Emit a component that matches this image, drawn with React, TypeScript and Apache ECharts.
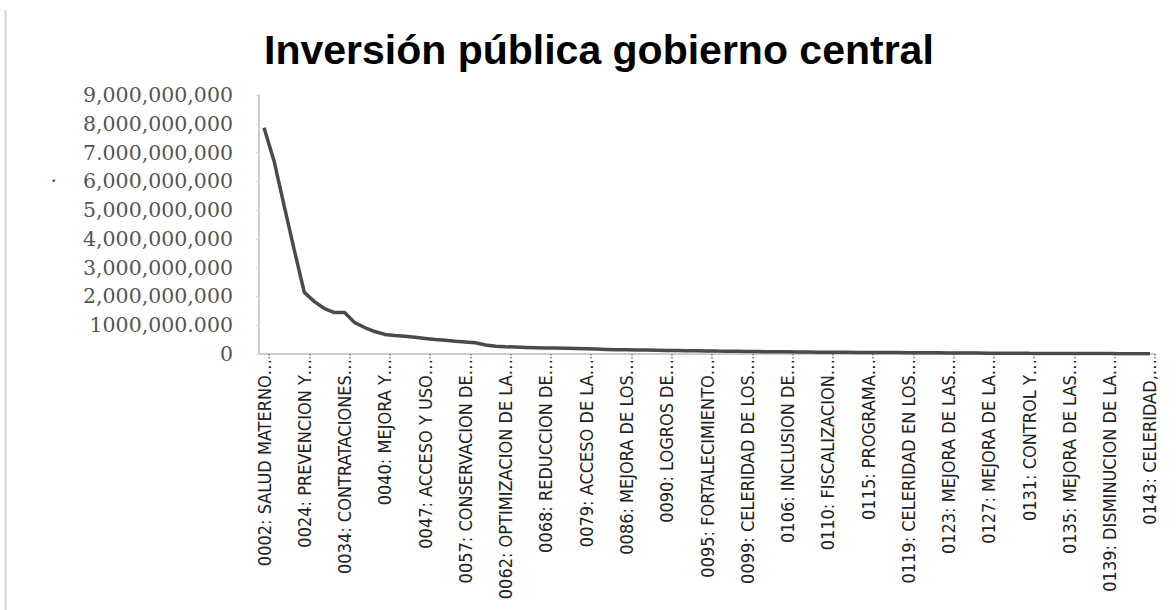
import React, { useEffect, useRef } from "react";
import * as echarts from "echarts";

const titleText = "Inversión pública gobierno central";

const categories = [
  "0002: SALUD MATERNO…", "0016", "0017", "0018",
  "0024: PREVENCION Y…", "0030", "0031", "0032",
  "0034: CONTRATACIONES…", "0035", "0036", "0039",
  "0040: MEJORA Y…", "0041", "0042", "0046",
  "0047: ACCESO Y USO…", "0048", "0049", "0051",
  "0057: CONSERVACION DE…", "0058", "0059", "0060",
  "0062: OPTIMIZACION DE LA…", "0064", "0065", "0066",
  "0068: REDUCCION DE…", "0072", "0073", "0074",
  "0079: ACCESO DE LA…", "0080", "0082", "0083",
  "0086: MEJORA DE LOS…", "0087", "0088", "0089",
  "0090: LOGROS DE…", "0091", "0093", "0094",
  "0095: FORTALECIMIENTO…", "0096", "0097", "0098",
  "0099: CELERIDAD DE LOS…", "0101", "0103", "0104",
  "0106: INCLUSION DE…", "0107", "0108", "0109",
  "0110: FISCALIZACION…", "0111", "0113", "0114",
  "0115: PROGRAMA…", "0116", "0117", "0118",
  "0119: CELERIDAD EN LOS…", "0120", "0121", "0122",
  "0123: MEJORA DE LAS…", "0124", "0125", "0126",
  "0127: MEJORA DE LA…", "0128", "0129", "0130",
  "0131: CONTROL Y…", "0132", "0133", "0134",
  "0135: MEJORA DE LAS…", "0136", "0137", "0138",
  "0139: DISMINUCION DE LA…", "0140", "0141", "0142",
  "0143: CELERIDAD,…",
];

const inversion = [
  7860000000, 6700000000, 5150000000, 3620000000,
  2140000000, 1820000000, 1580000000, 1440000000,
  1440000000, 1090000000, 920000000, 780000000,
  680000000, 640000000, 620000000, 580000000,
  540000000, 500000000, 480000000, 440000000,
  420000000, 390000000, 310000000, 270000000,
  250000000, 240000000, 230000000, 220000000,
  210000000, 205000000, 200000000, 190000000,
  180000000, 170000000, 160000000, 150000000,
  145000000, 140000000, 135000000, 130000000,
  125000000, 120000000, 115000000, 110000000,
  105000000, 100000000, 96000000, 92000000,
  88000000, 84000000, 80000000, 77000000,
  74000000, 71000000, 68000000, 65000000,
  62000000, 60000000, 58000000, 56000000,
  54000000, 52000000, 50000000, 48000000,
  46000000, 44000000, 42000000, 40000000,
  38000000, 36000000, 34000000, 32000000,
  30000000, 28000000, 26000000, 24000000,
  22000000, 21000000, 20000000, 19000000,
  18000000, 17000000, 16000000, 15000000,
  14000000, 13000000, 12000000, 11000000,
  10000000,
];

const yTickLabels = [
  "0",
  "1000,000.000",
  "2,000,000,000",
  "3,000,000,000",
  "4,000,000,000",
  "5,000,000,000",
  "·    6,000,000,000",
  "7.000,000,000",
  "8,000,000,000",
  "9,000,000,000",
];

export default function App() {
  const ref = useRef<HTMLDivElement>(null);
  useEffect(() => {
    if (!ref.current) return;
    const chart = echarts.init(ref.current, null, { renderer: "svg" });
    chart.setOption({
      animation: false,
      backgroundColor: "#ffffff",
      title: {
        text: titleText,
        left: 259,
        top: 24,
        textStyle: {
          fontFamily: "Liberation Sans, Arial, sans-serif",
          fontWeight: "bold",
          fontSize: 41,
          color: "#000000",
        },
      },
      graphic: [
        {
          type: "line",
          shape: { x1: 5.5, y1: 10, x2: 5.5, y2: 610 },
          style: { stroke: "#d4d4d4", lineWidth: 2 },
        },
      ],
      grid: {
        left: 259,
        right: 21,
        top: 95,
        bottom: 256,
        containLabel: false,
        outerBoundsMode: "none",
      },
      xAxis: {
        type: "category",
        data: categories,
        boundaryGap: true,
        axisLine: { show: true, lineStyle: { color: "#bdbdbd", width: 1.5 } },
        axisTick: {
          show: true,
          interval: (idx: number) => idx % 4 === 1,
          length: 6,
          lineStyle: { color: "#777777", type: "dotted", width: 1.5 },
        },
        axisLabel: {
          interval: 3,
          rotate: 90,
          margin: 5,
          fontFamily: "Liberation Sans Narrow, DejaVu Sans Condensed, sans-serif",
          fontSize: 18,
          color: "#222222",
        },
        splitLine: { show: false },
      },
      yAxis: {
        type: "value",
        min: 0,
        max: 9000000000,
        interval: 1000000000,
        axisLine: { show: true, lineStyle: { color: "#bdbdbd", width: 1.5 } },
        axisTick: { show: true, length: 3, lineStyle: { color: "#dddddd" } },
        splitLine: { show: false },
        axisLabel: {
          margin: 26,
          fontFamily: "DejaVu Serif, serif",
          fontSize: 20.5,
          color: "#555555",
          formatter: (v: number) => yTickLabels[Math.round(v / 1000000000)] ?? "",
        },
      },
      series: [
        {
          type: "line",
          data: inversion,
          showSymbol: false,
          symbol: "none",
          lineStyle: { color: "#4a4a4a", width: 3.5 },
          itemStyle: { color: "#4a4a4a" },
        },
      ],
    });
    return () => chart.dispose();
  }, []);
  return (
    <div
      ref={ref}
      style={{ position: "fixed", left: 0, top: 0, width: 1176, height: 610 }}
    />
  );
}
